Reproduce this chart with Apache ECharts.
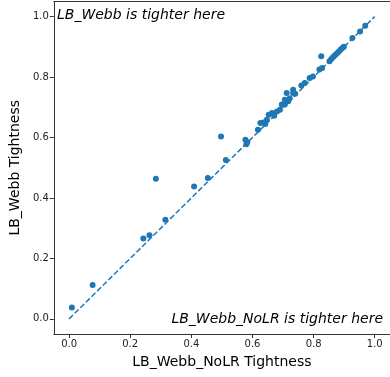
<!DOCTYPE html>
<html>
<head>
<meta charset="utf-8">
<script src="https://cdn.jsdelivr.net/npm/echarts@6/dist/echarts.min.js"></script>
<style>
  html, body { margin: 0; padding: 0; background: #fff; }
  #chart { width: 390px; height: 377px; }
</style>
</head>
<body>
<div id="chart"></div>
<script>
// Tightness of the lower bound with and without the LR step, one point per case
const noLrTightness = [
  0.009, 0.077, 0.243, 0.263, 0.284, 0.315, 0.409, 0.454, 0.497, 0.513,
  0.577, 0.583, 0.580, 0.618, 0.626, 0.636, 0.647, 0.642, 0.653, 0.664,
  0.671, 0.680, 0.690, 0.696, 0.706, 0.706, 0.712, 0.717, 0.722, 0.733,
  0.733, 0.740, 0.760, 0.771, 0.787, 0.798, 0.819, 0.825, 0.828, 0.852,
  0.858, 0.864, 0.870, 0.876, 0.882, 0.888, 0.894, 0.899, 0.927, 0.952,
  0.969
];
const webbTightness = [
  0.038, 0.112, 0.266, 0.277, 0.464, 0.328, 0.438, 0.466, 0.603, 0.526,
  0.593, 0.584, 0.578, 0.626, 0.648, 0.650, 0.659, 0.645, 0.675, 0.681,
  0.672, 0.686, 0.692, 0.709, 0.709, 0.725, 0.747, 0.720, 0.730, 0.747,
  0.758, 0.745, 0.772, 0.780, 0.797, 0.802, 0.825, 0.869, 0.830, 0.852,
  0.860, 0.866, 0.872, 0.878, 0.884, 0.890, 0.896, 0.900, 0.929, 0.951,
  0.970
];
const tickValues = [0, 0.2, 0.4, 0.6, 0.8, 1.0];
const diagonal = [[0, 0], [1, 1]];

const BLUE = '#1f77b4';
const SPINE = '#333';
const FONT = 'DejaVu Sans';

const points = noLrTightness.map((x, i) => [x, webbTightness[i]]);

const axisCommon = {
  type: 'value',
  min: -0.05,
  max: 1.05,
  nameLocation: 'middle',
  nameTextStyle: { fontFamily: FONT, fontSize: 14, color: '#000' },
  splitLine: { show: false },
  axisLine: { show: true, onZero: false, lineStyle: { color: SPINE, width: 1 } },
  axisTick: {
    show: true, inside: false, length: 4,
    lineStyle: { color: SPINE, width: 1 },
    customValues: tickValues
  },
  axisLabel: {
    fontFamily: FONT, fontSize: 10, color: '#222', margin: 5,
    customValues: tickValues,
    formatter: v => v.toFixed(1)
  }
};

// top spine only; the right-hand spine falls outside the canvas
const topSpine = {
  type: 'value', position: 'top', min: -0.05, max: 1.05,
  axisLine: { show: true, onZero: false, lineStyle: { color: SPINE, width: 1 } },
  axisTick: { show: false }, axisLabel: { show: false }, splitLine: { show: false }
};

const chart = echarts.init(document.getElementById('chart'), null, { renderer: 'canvas' });
chart.setOption({
  animation: false,
  backgroundColor: '#fff',
  grid: { left: 50, top: 1.5, width: 341, height: 332.5 },
  xAxis: [
    Object.assign({}, axisCommon, { name: 'LB_Webb_NoLR Tightness', nameGap: 21 }),
    topSpine
  ],
  yAxis: Object.assign({}, axisCommon, { name: 'LB_Webb Tightness', nameGap: 28 }),
  series: [
    {
      type: 'line',
      data: diagonal,
      symbol: 'none',
      lineStyle: { color: BLUE, width: 1.5, type: [5.5, 2.4] },
      z: 2
    },
    {
      type: 'scatter',
      data: points,
      symbol: 'circle',
      symbolSize: 6,
      itemStyle: { color: BLUE, opacity: 1 },
      z: 3
    }
  ],
  graphic: [
    {
      type: 'text', left: 57, top: 8,
      style: { text: 'LB_Webb is tighter here', font: 'italic 14px "DejaVu Sans"', fill: '#000' }
    },
    {
      type: 'text', right: 7, top: 312,
      style: { text: 'LB_Webb_NoLR is tighter here', font: 'italic 14px "DejaVu Sans"', fill: '#000' }
    }
  ]
});
</script>
</body>
</html>
